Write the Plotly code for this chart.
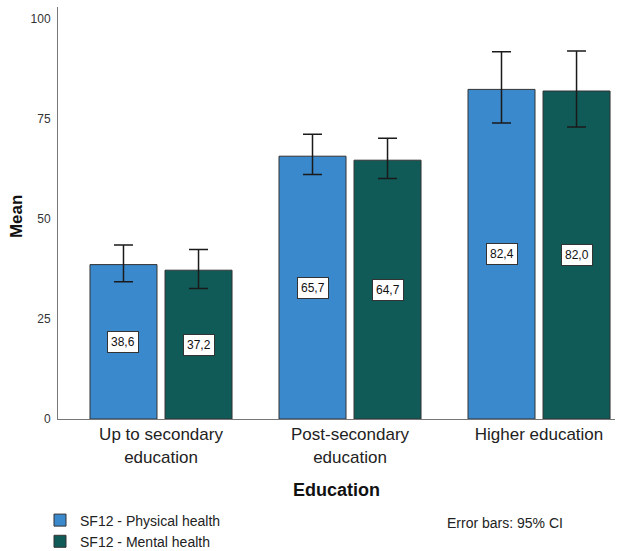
import plotly.graph_objects as go

categories = ["Up to secondary<br>education", "Post-secondary<br>education", "Higher education"]
physical_mean = [38.6, 65.7, 82.4]
physical_ci_low = [34.3, 61.1, 74.0]
physical_ci_high = [43.5, 71.2, 91.8]
mental_mean = [37.2, 64.7, 82.0]
mental_ci_low = [32.6, 60.1, 73.0]
mental_ci_high = [42.4, 70.2, 92.0]
y_ticks = [0, 25, 50, 75, 100]

BLUE = "#3a89cd"
TEAL = "#105b58"
FONT = "Liberation Sans, Arial, sans-serif"


def label(v):
    return f"{v:.1f}".replace(".", ",")


fig = go.Figure()
series = [
    ("SF12 - Physical health", physical_mean, physical_ci_low, physical_ci_high, BLUE, "p"),
    ("SF12 - Mental health", mental_mean, mental_ci_low, mental_ci_high, TEAL, "m"),
]
for name, mean, lo, hi, color, grp in series:
    fig.add_trace(go.Bar(
        x=list(range(len(categories))), y=mean, name=name, legendgroup=grp,
        marker=dict(color=color, line=dict(color="#333333", width=1)),
        error_y=dict(type="data", symmetric=False,
                     array=[h - m for h, m in zip(hi, mean)],
                     arrayminus=[m - l for m, l in zip(mean, lo)],
                     color="#1a1a1a", thickness=1.5, width=9.5),
    ))

# value boxes at half bar height
bargap, groupgap = 0.206, 0.107
slot = (1 - bargap) / 2
for i in range(len(categories)):
    for k, mean in enumerate([physical_mean[i], mental_mean[i]]):
        xc = i - (1 - bargap) / 2 + slot * (k + 0.5)
        fig.add_annotation(x=xc, y=mean / 2, text=label(mean), showarrow=False,
                           font=dict(size=12, color="#111111", family=FONT),
                           bgcolor="white", bordercolor="#333333", borderwidth=1,
                           borderpad=3)

fig.add_annotation(xref="paper", yref="paper", x=0.695, y=-0.252, xanchor="left",
                   yanchor="middle", text="Error bars: 95% CI", showarrow=False,
                   font=dict(size=14, color="#222222", family=FONT))

# y-axis title
fig.add_annotation(xref="paper", yref="paper", x=-42 / 557, y=0.49,
                   xanchor="center", yanchor="middle", textangle=-90,
                   text="<b>Mean</b>", showarrow=False,
                   font=dict(size=17, color="#111111", family=FONT))

fig.update_layout(
    width=620, height=551,
    margin=dict(l=58, r=5, t=7, b=132, autoexpand=False),
    plot_bgcolor="white", paper_bgcolor="white",
    barmode="group", bargap=bargap, bargroupgap=groupgap,
    font=dict(family=FONT, color="#222222"),
    showlegend=True,
    legend=dict(orientation="v", xref="container", yref="container",
                x=40 / 620, y=0.0844, xanchor="left", yanchor="top",
                font=dict(size=14, color="#222222"), itemwidth=30,
                tracegroupgap=2, traceorder="normal"),
    xaxis=dict(
        tickmode="array", tickvals=list(range(len(categories))), ticktext=categories,
        range=[-0.545, 2.402], showline=True, linecolor="#777777", linewidth=1,
        ticks="", tickfont=dict(size=17, color="#222222"), showgrid=False,
        title=dict(text="<b>Education</b>", font=dict(size=18, color="#111111"), standoff=17),
    ),
    yaxis=dict(
        range=[0, 103], tickvals=y_ticks, showline=True, linecolor="#777777",
        linewidth=1, showgrid=False, zeroline=False, ticks="",
        ticklabelstandoff=4, tickfont=dict(size=12, color="#333333"),
    ),
)

fig.write_html("out.html")
